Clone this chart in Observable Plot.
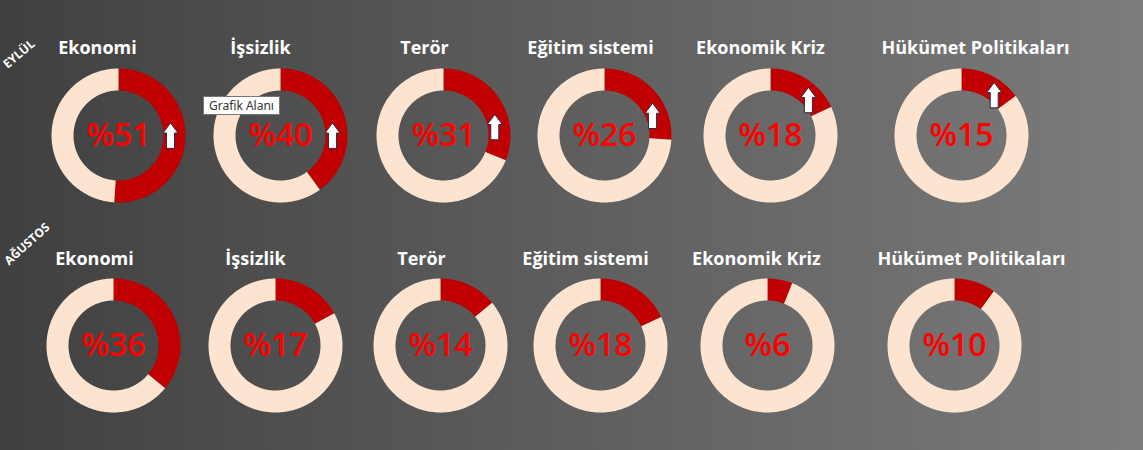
<!DOCTYPE html>
<html>
<head>
<meta charset="utf-8">
<script src="https://cdn.jsdelivr.net/npm/d3@7"></script>
<script src="https://cdn.jsdelivr.net/npm/@observablehq/plot@0.6"></script>
<style>
  html, body { margin: 0; padding: 0; }
  body { width: 1143px; height: 450px; overflow: hidden;
         background: linear-gradient(to right, #404040, #7c7c7c); font-family: "Open Sans", sans-serif; }
  #stage { position: relative; width: 1143px; height: 450px; }
  .cell { position: absolute; }
  .month { position: absolute; color: #fff; font: 700 12px "Open Sans", sans-serif; white-space: nowrap;
           line-height: 14px; transform: translate(-50%, -50%) rotate(-40deg); }
  .tip { position: absolute; background: #fff; border: 1px solid #767676; color: #333;
         font: 12px "Noto Sans", sans-serif; padding: 0px 5px; line-height: 17px; white-space: nowrap; }
</style>
</head>
<body>
<div id="stage"></div>
<script>
// ---- data ----
const categories = ["Ekonomi", "İşsizlik", "Terör", "Eğitim sistemi", "Ekonomik Kriz", "Hükümet Politikaları"];
const months = ["EYLÜL", "AĞUSTOS"];
const eylulValues = [51, 40, 31, 26, 18, 15];
const agustosValues = [36, 17, 14, 18, 6, 10];
const eylulTrend = ["up", "up", "up", "up", "up", "up"];
const agustosTrend = [null, null, null, null, null, null];

// ---- layout (pixel placement only) ----
const rowCy = [135, 345];
const donutCx = [[118, 280, 443, 604, 770, 961], [113, 275, 440, 600, 767, 954]];
const titleCx = [[97, 260, 424, 590, 760, 975], [94, 255, 421, 585, 756, 971]];
const titleRise = [87, 86];
const monthPos = [[19, 54], [27, 244]];
const R_OUT = 67, R_IN = 45, HALF = 110, W = 220;

const rows = [
  {month: months[0], values: eylulValues, trend: eylulTrend},
  {month: months[1], values: agustosValues, trend: agustosTrend}
];

function ringPoints(value) {
  const slices = [{slice: "pay", from: 0, to: value}, {slice: "rest", from: value, to: 100}];
  const pts = [];
  for (const s of slices) {
    const a0 = s.from / 100 * 2 * Math.PI, a1 = s.to / 100 * 2 * Math.PI;
    const n = Math.max(2, Math.ceil((s.to - s.from) * 3.6));
    for (let i = 0; i <= n; i++) {
      const a = a0 + (a1 - a0) * i / n;
      pts.push({slice: s.slice, x: R_OUT * Math.sin(a), y: R_OUT * Math.cos(a)});
    }
    for (let i = n; i >= 0; i--) {
      const a = a0 + (a1 - a0) * i / n;
      pts.push({slice: s.slice, x: R_IN * Math.sin(a), y: R_IN * Math.cos(a)});
    }
  }
  return pts;
}

const blockArrow = {
  draw(context, l) {
    const hw = 7.5, sw = 4, hh = 10;
    context.moveTo(-sw, 0);
    context.lineTo(-sw, -l + hh);
    context.lineTo(-hw, -l + hh);
    context.lineTo(0, -l);
    context.lineTo(hw, -l + hh);
    context.lineTo(sw, -l + hh);
    context.lineTo(sw, 0);
    context.closePath();
  }
};

const stage = document.getElementById("stage");

rows.forEach((row, ri) => {
  const m = document.createElement("div");
  m.className = "month";
  m.textContent = row.month;
  m.style.left = monthPos[ri][0] + "px";
  m.style.top = monthPos[ri][1] + "px";
  if (ri === 1) m.style.transform = "translate(-50%, -50%) rotate(-42deg)";
  stage.appendChild(m);

  categories.forEach((cat, ci) => {
    const v = row.values[ci];
    const ang = Math.min(90, 2.6 * v) * Math.PI / 180;
    const arrows = row.trend[ci] === "up" ? [{x: 52 * Math.sin(ang), y: 52 * Math.cos(ang)}] : [];
    const chart = Plot.plot({
      width: W, height: 2 * HALF, margin: 0,
      x: {domain: [-W / 2, W / 2], axis: null},
      y: {domain: [-HALF, HALF], axis: null},
      color: {domain: ["pay", "rest"], range: ["#c00000", "#fce4d1"]},
      style: {background: "transparent", overflow: "visible"},
      marks: [
        Plot.line(ringPoints(v), {x: "x", y: "y", z: "slice", fill: "slice", stroke: "none", curve: "linear"}),
        Plot.text([cat], {frameAnchor: "top", lineAnchor: "middle", dy: HALF - titleRise[ri],
          dx: titleCx[ri][ci] - donutCx[ri][ci], fill: "white", fontSize: 18, fontWeight: 700,
          fontFamily: "Open Sans"}),
        Plot.text([v], {frameAnchor: "middle", text: d => "%" + d, fill: "#ff0000", fontSize: 32,
          fontWeight: 600, fontFamily: "Open Sans", lineAnchor: "middle", letterSpacing: -0.5}),
        Plot.vector(arrows, {x: "x", y: "y", length: 25, rotate: 0, anchor: "middle", shape: blockArrow,
          fill: "white", stroke: "#2e2a4a", strokeWidth: 1})
      ]
    });
    const cell = document.createElement("div");
    cell.className = "cell";
    cell.style.left = (donutCx[ri][ci] - W / 2) + "px";
    cell.style.top = (rowCy[ri] - HALF) + "px";
    cell.appendChild(chart);
    stage.appendChild(cell);
  });
});

const tip = document.createElement("div");
tip.className = "tip";
tip.textContent = "Grafik Alanı";
tip.style.left = "203px";
tip.style.top = "96px";
stage.appendChild(tip);
</script>
</body>
</html>
